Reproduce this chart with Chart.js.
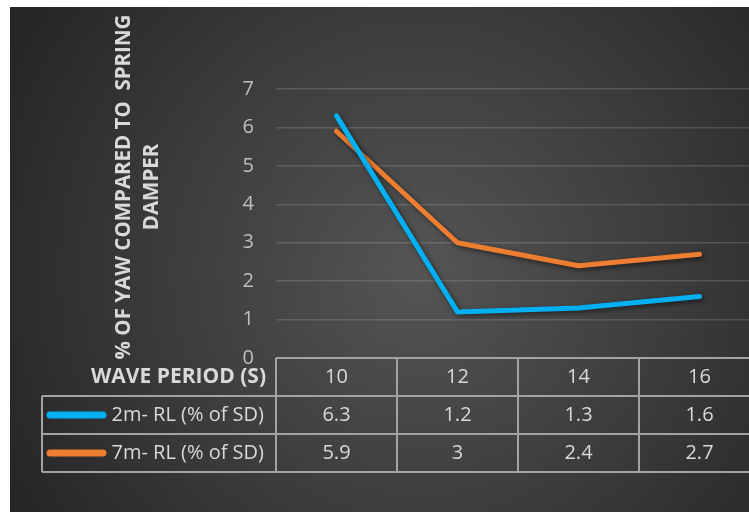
<!DOCTYPE html>
<html>
<head>
<meta charset="utf-8">
<script src="https://cdn.jsdelivr.net/npm/chart.js@4/dist/chart.umd.min.js"></script>
<style>
  html, body { margin: 0; padding: 0; background: #ffffff; }
  #frame { width: 749px; height: 512px; overflow: hidden; position: relative; }
  #chart { display: block; }
</style>
</head>
<body>
<div id="frame"><canvas id="chart" width="760" height="512"></canvas></div>
<script>
// Wave periods (s) and yaw response of each rope length, % of spring damper
const categories = ['10', '12', '14', '16'];
const rl2m = [6.3, 1.2, 1.3, 1.6];
const rl7m = [5.9, 3, 2.4, 2.7];
const seriesNames = ['2m- RL (% of SD)', '7m- RL (% of SD)'];
const seriesColors = ['#00B0F0', '#ED7D31'];
const yMin = 0, yMax = 7, yStep = 1;
const axisTitleLines = ['% OF YAW COMPARED TO  SPRING', 'DAMPER'];
const tableHeader = 'WAVE PERIOD (S)';

const FONT = "'Open Sans', 'Noto Sans', sans-serif";
const TEXT_SIZE = 20;
const BOLD_SIZE = 21;
const TITLE_SIZE = 20.5;

// dark panel with a soft radial light in the middle
const panelBackground = {
  id: 'panelBackground',
  beforeDraw(chart) {
    const { ctx, width, height } = chart;
    ctx.save();
    ctx.fillStyle = '#ffffff';
    ctx.fillRect(0, 0, width, height);
    const g = ctx.createRadialGradient(420, 270, 10, 420, 270, 470);
    g.addColorStop(0, '#545454');
    g.addColorStop(0.55, '#3b3b3b');
    g.addColorStop(1, '#252525');
    ctx.fillStyle = g;
    ctx.fillRect(10, 7, width - 10, height - 7);
    ctx.restore();
  }
};

// soft drop shadow under the lines
const lineShadow = {
  id: 'lineShadow',
  beforeDatasetDraw(chart) {
    const ctx = chart.ctx;
    ctx.save();
    ctx.shadowColor = 'rgba(0,0,0,0.55)';
    ctx.shadowBlur = 5;
    ctx.shadowOffsetX = 2;
    ctx.shadowOffsetY = 2;
  },
  afterDatasetDraw(chart) {
    chart.ctx.restore();
  }
};

// rotated two-line value-axis title
const yTitle = {
  id: 'yTitle',
  afterDraw(chart) {
    const ctx = chart.ctx;
    ctx.save();
    ctx.fillStyle = '#d9d9d9';
    ctx.font = 'bold ' + TITLE_SIZE + 'px ' + FONT;
    ctx.textAlign = 'center';
    ctx.textBaseline = 'middle';
    const cy = 187;
    const xs = [124, 152];
    axisTitleLines.forEach((line, i) => {
      ctx.save();
      ctx.translate(xs[i], cy);
      ctx.rotate(-Math.PI / 2);
      ctx.fillText(line, 0, 0);
      ctx.restore();
    });
    ctx.restore();
  }
};

// data table under the plot, aligned to the category scale
const dataTable = {
  id: 'dataTable',
  afterDraw(chart) {
    const ctx = chart.ctx;
    const xs = chart.scales.x;
    const area = chart.chartArea;
    const left = area.left;
    const right = area.right;
    const colW = (right - left) / categories.length;
    const top = area.bottom;
    const rows = [top, top + 38, top + 76, top + 114];
    const boxLeft = 42;

    ctx.save();
    ctx.strokeStyle = '#a3a3a3';
    ctx.lineWidth = 2;
    ctx.beginPath();
    // horizontal rules
    ctx.moveTo(left, rows[0]); ctx.lineTo(right, rows[0]);
    for (let r = 1; r < rows.length; r++) {
      ctx.moveTo(boxLeft, rows[r]); ctx.lineTo(right, rows[r]);
    }
    // vertical rules
    for (let c = 0; c <= categories.length; c++) {
      const x = left + c * colW;
      ctx.moveTo(x, rows[0]); ctx.lineTo(x, rows[3]);
    }
    ctx.moveTo(boxLeft, rows[1]); ctx.lineTo(boxLeft, rows[3]);
    ctx.stroke();

    ctx.textBaseline = 'middle';
    // header row
    ctx.fillStyle = '#d9d9d9';
    ctx.font = 'bold ' + BOLD_SIZE + 'px ' + FONT;
    ctx.textAlign = 'right';
    ctx.fillText(tableHeader, left - 10, (rows[0] + rows[1]) / 2);
    ctx.font = TEXT_SIZE + 'px ' + FONT;
    ctx.textAlign = 'center';
    categories.forEach((c, i) => {
      ctx.fillText(c, xs.getPixelForValue(i), (rows[0] + rows[1]) / 2);
    });

    // series rows
    chart.data.datasets.forEach((ds, k) => {
      const cy = (rows[k + 1] + rows[k + 2]) / 2;
      ctx.strokeStyle = ds.borderColor;
      ctx.lineWidth = 7;
      ctx.lineCap = 'round';
      ctx.beginPath();
      ctx.moveTo(50, cy);
      ctx.lineTo(103, cy);
      ctx.stroke();
      ctx.fillStyle = '#d9d9d9';
      ctx.font = TEXT_SIZE + 'px ' + FONT;
      ctx.textAlign = 'right';
      ctx.fillText(ds.label, left - 12, cy);
      ctx.textAlign = 'center';
      ds.data.forEach((v, i) => {
        ctx.fillText(String(v), xs.getPixelForValue(i), cy);
      });
    });
    ctx.restore();
  }
};

new Chart(document.getElementById('chart'), {
  type: 'line',
  data: {
    labels: categories,
    datasets: [
      { label: seriesNames[0], data: rl2m, borderColor: seriesColors[0] },
      { label: seriesNames[1], data: rl7m, borderColor: seriesColors[1] }
    ]
  },
  options: {
    responsive: false,
    animation: false,
    devicePixelRatio: 1,
    layout: { padding: { left: 0, right: 0, top: 89, bottom: 154 } },
    elements: {
      line: { borderWidth: 5, borderCapStyle: 'round', borderJoinStyle: 'round', tension: 0 },
      point: { radius: 0, hoverRadius: 0 }
    },
    plugins: {
      legend: { display: false },
      tooltip: { enabled: false },
      title: { display: false }
    },
    scales: {
      x: {
        display: false,
        offset: true
      },
      y: {
        min: yMin,
        max: yMax,
        ticks: {
          stepSize: yStep,
          color: '#bfbfbf',
          font: { family: FONT, size: TEXT_SIZE },
          padding: 22
        },
        grid: {
          color: 'rgba(255,255,255,0.14)',
          lineWidth: 1.5,
          drawTicks: false
        },
        border: { display: false },
        afterFit(scale) { scale.width = 276; }
      }
    }
  },
  plugins: [panelBackground, lineShadow, yTitle, dataTable]
});
</script>
</body>
</html>
